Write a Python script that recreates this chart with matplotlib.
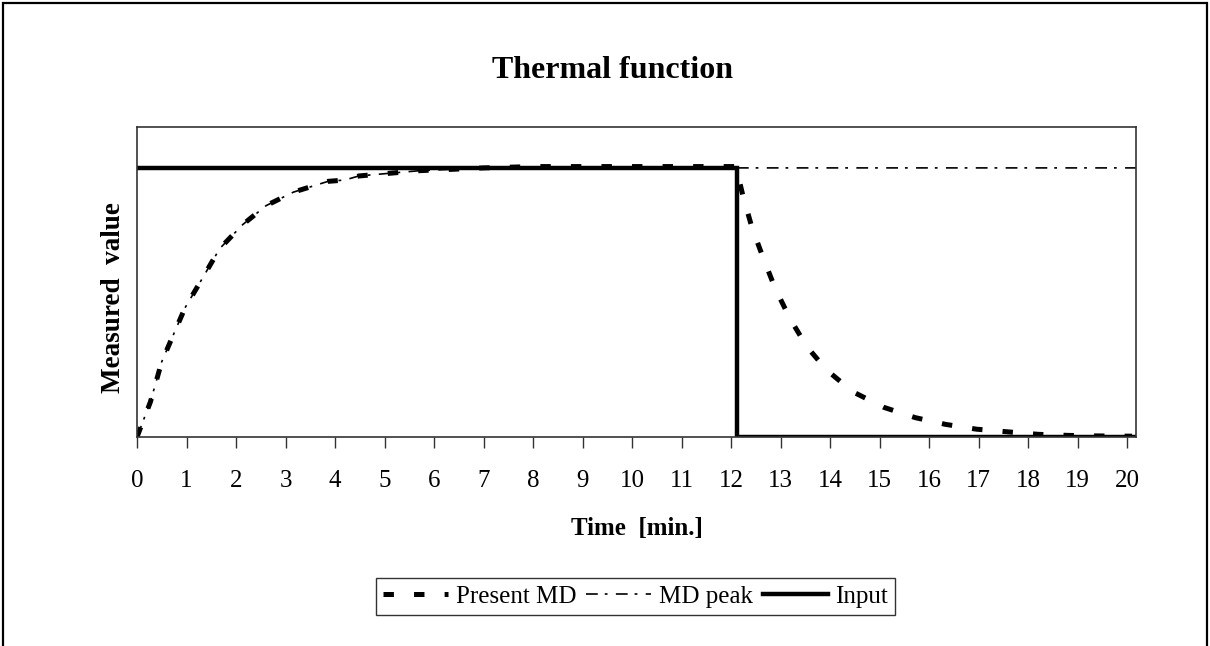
import matplotlib
matplotlib.use('Agg')
import matplotlib.pyplot as plt
from matplotlib.patches import Rectangle

plt.rcParams['font.family'] = ['Liberation Serif', 'DejaVu Serif']
plt.rcParams['lines.scale_dashes'] = False

# data (time in min, value relative to input = 1)
present_t = [0, 0.27, 0.5, 0.97, 1.29, 1.67, 2.14, 2.61, 3.16, 3.86, 4.2, 4.48, 5.1, 5.73, 6.4, 7.0,
             8, 9, 10, 11, 12.1, 12.24, 12.42, 12.65, 12.89, 13.19, 13.53, 13.93, 14.46, 15.09,
             15.72, 16.33, 16.96, 17.6, 18.2, 18.8, 19.4, 20.1]
present_v = [0, 0.13, 0.28, 0.48, 0.58, 0.70, 0.79, 0.86, 0.91, 0.95, 0.955, 0.97, 0.98, 0.99, 0.995, 1.0,
             1.005, 1.005, 1.005, 1.005, 1.005, 0.896, 0.78, 0.665, 0.553, 0.44, 0.336, 0.249, 0.168, 0.11,
             0.072, 0.047, 0.029, 0.019, 0.01, 0.006, 0.004, 0.003]

peak_t = [0, 0.27, 0.5, 0.97, 1.29, 1.67, 2.14, 2.61, 3.16, 3.86, 4.2, 4.48, 5.1, 5.73, 6.4, 7.0, 12.1, 20.18]
peak_v = [0, 0.13, 0.28, 0.48, 0.58, 0.70, 0.79, 0.86, 0.91, 0.95, 0.955, 0.97, 0.98, 0.99, 0.995, 1.0, 1.0, 1.0]

input_t = [0, 12.12, 12.12, 20.18]
input_v = [1, 1, 0, 0]

xticks = list(range(0, 21))

fig = plt.figure(figsize=(12.1, 6.46), dpi=100)
ax = fig.add_axes([137 / 1210, 1 - 437 / 646, (1136 - 137) / 1210, (437 - 127) / 646])

ax.plot(present_t, present_v, color='black', lw=3.6, dashes=(7.5, 14.5),
        solid_capstyle='butt', dash_capstyle='butt', label='Present MD')
ax.plot(peak_t, peak_v, color='black', lw=1.2, dashes=(8.5, 5, 2, 6), label='MD peak')
ax.plot(input_t, input_v, color='black', lw=3.2, solid_joinstyle='miter', label='Input')

ax.set_xlim(0, 20.18)
ax.set_ylim(0, 1.152)
ax.set_xticks(xticks)
ax.set_xticklabels([str(t) for t in xticks], fontsize=18)
ax.set_yticks([])
ax.tick_params(axis='x', direction='out', length=8, width=1, color='#333333', pad=16)
for s in ax.spines.values():
    s.set_color('#333333')
    s.set_linewidth(1.2)

# texts placed in figure pixels
fig.text(612.5 / 1210, 1 - 71 / 646, 'Thermal function', fontsize=23, fontweight='bold',
         ha='center', va='center')
fig.text(636.5 / 1210, 1 - 529 / 646, 'Time  [min.]', fontsize=18, fontweight='bold',
         ha='center', va='center')
fig.text(113 / 1210, 1 - 298 / 646, 'Measured  value', fontsize=19.5, fontweight='bold',
         ha='center', va='center', rotation=90)

leg = fig.legend(loc='center', bbox_to_anchor=(635.5 / 1210, 1 - 596.5 / 646), ncol=3,
                 fontsize=18, frameon=True, fancybox=False, edgecolor='black',
                 handlelength=2.6, handletextpad=0.3, columnspacing=0.4, borderpad=0.3)
leg.get_frame().set_linewidth(1.0)

# outer border of the chart
fig.add_artist(Rectangle((3 / 1210, -0.01), (1207 - 3) / 1210, 1.01 - 3 / 646,
                         transform=fig.transFigure, fill=False, edgecolor='black', lw=1.6))

fig.savefig('out.png', dpi=100)
